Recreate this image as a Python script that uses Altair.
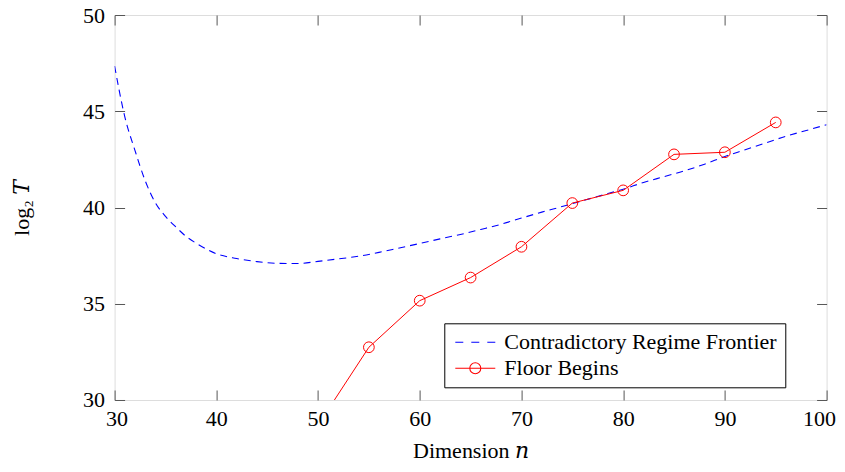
import altair as alt
import pandas as pd

S1 = "Contradictory Regime Frontier"
S2 = "Floor Begins"

frontier_n = [30, 31, 32, 33, 34, 35, 36, 37, 38, 39, 40,
              42, 44, 46, 48, 50, 52, 54, 56, 58, 60,
              62, 64, 66, 68, 70, 72, 74, 76, 78, 80,
              82, 84, 86, 88, 90, 92, 94, 96, 98, 100]
frontier_t = [47.35, 44.72, 42.97, 41.40, 40.25, 39.54, 39.00, 38.51, 38.15, 37.85, 37.60,
              37.35, 37.19, 37.10, 37.09, 37.20, 37.33, 37.47, 37.67, 37.90, 38.13,
              38.37, 38.60, 38.86, 39.13, 39.45, 39.76, 40.05, 40.35, 40.65, 40.95,
              41.30, 41.60, 41.90, 42.25, 42.65, 43.00, 43.35, 43.70, 44.00, 44.30]

floor_n = [50, 55, 60, 65, 70, 75, 80, 85, 90, 95]
floor_t = [28.7, 32.74, 35.16, 36.36, 37.96, 40.23, 40.89, 42.76, 42.87, 44.42]

x_ticks = [30, 40, 50, 60, 70, 80, 90, 100]
y_ticks = [30, 35, 40, 45, 50]

df = pd.concat([
    pd.DataFrame({"n": frontier_n, "t": frontier_t, "series": S1}),
    pd.DataFrame({"n": floor_n, "t": floor_t, "series": S2}),
], ignore_index=True)

FONT = "'Liberation Serif', Tinos, 'Times New Roman', 'DejaVu Serif', serif"
FS = 22
TOP = 7.0
H = 392.0 - TOP

xs = alt.Scale(domain=[30, 100], nice=False, zero=False)
ys = alt.Scale(domain=[30, 50], nice=False, zero=False)

grid_ticks = dict(grid=True, gridColor="#555555", gridWidth=1, gridDash=[10, 2000],
                  ticks=False, tickSize=0, domain=False)

x_main = alt.Axis(orient="bottom", values=x_ticks, title="Dimension 𝑛",
                  labelFlush=True, labelFlushOffset=9,
                  labelPadding=9, labelFont=FONT, labelFontSize=FS, labelColor="black",
                  titleFont=FONT, titleFontSize=FS, titleFontWeight="normal", titleColor="black",
                  titleY=58, titleBaseline="alphabetic", **grid_ticks)
y_main = alt.Axis(orient="left", values=y_ticks, title="log₂ 𝑇", labelPadding=10,
                  labelFont=FONT, labelFontSize=FS, labelColor="black",
                  titleFont=FONT, titleFontSize=FS, titleFontWeight="normal", titleColor="black",
                  titleX=-93, titleY=H / 2, titleAlign="center", titleBaseline="middle",
                  **grid_ticks)
x_top = alt.Axis(orient="top", values=x_ticks, labels=False, title=None, **grid_ticks)
y_right = alt.Axis(orient="right", values=y_ticks, labels=False, title=None, **grid_ticks)

base = alt.Chart(df)

blue = base.transform_filter(alt.datum.series == S1).mark_line(
    color="#0000ff", strokeDash=[7, 5], strokeWidth=1.1, clip=True, interpolate="monotone"
).encode(
    x=alt.X("n:Q", scale=xs, axis=x_main),
    y=alt.Y("t:Q", scale=ys, axis=y_main),
    order="n:Q",
)

red = base.transform_filter(alt.datum.series == S2).mark_line(
    color="#ff0000", strokeWidth=1, clip=True
).encode(
    x=alt.X("n:Q", scale=xs, axis=x_top),
    y=alt.Y("t:Q", scale=ys, axis=y_right),
    order="n:Q",
)

pts = base.transform_filter(alt.datum.series == S2).mark_point(
    shape="circle", size=115, filled=False, color="#ff0000", strokeWidth=1, clip=True, opacity=1
).encode(
    x=alt.X("n:Q", scale=xs, axis=None),
    y=alt.Y("t:Q", scale=ys, axis=None),
)

P_BLUE = "M-2,0H-1.2M-0.4,0H0.4M1.2,0H2"
P_RED = "M-2,0H2M0.55,0A0.55,0.55 0 1,1 -0.55,0A0.55,0.55 0 1,1 0.55,0"

leg_def = alt.Legend(
    title=None, orient="none", legendX=329.7, legendY=323.3 - 8 - TOP, padding=8, rowPadding=4,
    strokeColor="black", fillColor="white", cornerRadius=0,
    symbolSize=400, symbolOffset=12, labelOffset=18, symbolStrokeWidth=1.1, symbolOpacity=1,
    labelFont=FONT, labelFontSize=FS, labelColor="black", labelLimit=500,
)

leg = base.mark_point(opacity=0, filled=False, strokeWidth=1.1, size=400, clip=True).encode(
    x=alt.X("n:Q", scale=xs, axis=None),
    y=alt.Y("t:Q", scale=ys, axis=None),
    color=alt.Color("series:N", scale=alt.Scale(domain=[S1, S2], range=["#0000ff", "#ff0000"]),
                    legend=leg_def),
    shape=alt.Shape("series:N", scale=alt.Scale(domain=[S1, S2], range=[P_BLUE, P_RED]),
                    legend=leg_def),
)

chart = alt.layer(blue, red, pts, leg).resolve_axis(
    x="independent", y="independent"
).properties(
    width=712, height=H,
    padding={"left": 106.6, "top": TOP, "right": 10, "bottom": 62},
    autosize=alt.AutoSizeParams(type="none"),
).configure_view(
    stroke="black", strokeWidth=1
).configure(
    font=FONT
)

chart.save("out.html", embed_options={"renderer": "svg", "actions": False})
